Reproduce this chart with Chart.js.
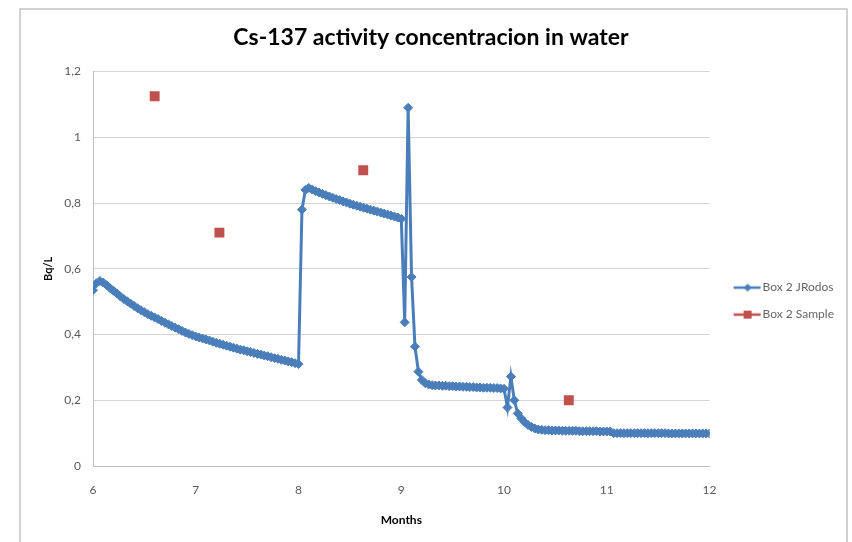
<!DOCTYPE html>
<html>
<head>
<meta charset="utf-8">
<script src="https://cdn.jsdelivr.net/npm/chart.js@4.4.0/dist/chart.umd.min.js"></script>
<style>
html, body { margin: 0; padding: 0; background: #fff; }
#grafico { display: block; }
</style>
</head>
<body>
<canvas id="grafico" width="852" height="542"></canvas>
<script>
// Box 2 JRodos: um valor por dia, do mês 6 ao mês 12
const jrodosInicio = 6;
const jrodosPasso = 1 / 30;
const jrodosValores = [
    0.535, 0.556, 0.563, 0.558, 0.550, 0.541, 0.533, 0.525, 0.516, 0.508,
    0.501, 0.494, 0.487, 0.480, 0.474, 0.468, 0.462, 0.457, 0.452, 0.447,
    0.441, 0.436, 0.431, 0.426, 0.421, 0.416, 0.411, 0.406, 0.402, 0.398,
    0.394, 0.391, 0.388, 0.385, 0.382, 0.378, 0.375, 0.372, 0.369, 0.366,
    0.363, 0.360, 0.357, 0.354, 0.352, 0.349, 0.347, 0.344, 0.341, 0.339,
    0.336, 0.334, 0.331, 0.328, 0.326, 0.323, 0.321, 0.318, 0.316, 0.313,
    0.310, 0.780, 0.840, 0.846, 0.841, 0.836, 0.832, 0.828, 0.824, 0.820,
    0.816, 0.812, 0.809, 0.805, 0.802, 0.798, 0.795, 0.792, 0.789, 0.786,
    0.783, 0.780, 0.777, 0.774, 0.771, 0.768, 0.765, 0.762, 0.759, 0.756,
    0.752, 0.437, 1.090, 0.575, 0.363, 0.287, 0.262, 0.252, 0.248, 0.246,
    0.245, 0.245, 0.244, 0.244, 0.243, 0.243, 0.242, 0.242, 0.241, 0.241,
    0.240, 0.240, 0.239, 0.239, 0.238, 0.238, 0.238, 0.237, 0.237, 0.236,
    0.235, 0.178, 0.272, 0.200, 0.160, 0.145, 0.133, 0.125, 0.119, 0.114,
    0.111, 0.110, 0.109, 0.109, 0.108, 0.108, 0.108, 0.107, 0.107, 0.107,
    0.107, 0.107, 0.106, 0.106, 0.106, 0.106, 0.106, 0.106, 0.105, 0.105,
    0.105, 0.105, 0.100, 0.100, 0.100, 0.100, 0.100, 0.100, 0.100, 0.100,
    0.100, 0.100, 0.100, 0.100, 0.100, 0.100, 0.100, 0.100, 0.099, 0.099,
    0.099, 0.099, 0.099, 0.099, 0.099, 0.099, 0.099, 0.099, 0.099, 0.099,
    0.099
];

// Box 2 Sample (amostras medidas)
const amostraMeses = [6.6, 7.23, 8.63, 10.63];
const amostraValores = [1.125, 0.71, 0.90, 0.20];

// Eixos
const mesMin = 6;
const mesMax = 12;
const bqMin = 0;
const bqMax = 1.2;

const azul = '#4A7EBB';
const vermelho = '#C0504D';
const fonte = 'Lato, "Open Sans", sans-serif';

// Pontos das séries
const jrodosPontos = jrodosValores.map((v, i) => ({ x: jrodosInicio + i * jrodosPasso, y: v }));
const amostraPontos = amostraMeses.map((m, i) => ({ x: m, y: amostraValores[i] }));

// Símbolo da legenda: linha com marcador (como no Excel)
function simboloLegenda(cor, tipo) {
    const c = document.createElement('canvas');
    c.width = 54;
    c.height = 14;
    const g = c.getContext('2d');
    g.strokeStyle = cor;
    g.fillStyle = cor;
    g.lineWidth = 2.5;
    g.beginPath();
    g.moveTo(20, 7);
    g.lineTo(47, 7);
    g.stroke();
    if (tipo === 'losango') {
        g.beginPath();
        g.moveTo(34, 3);
        g.lineTo(38, 7);
        g.lineTo(34, 11);
        g.lineTo(30, 7);
        g.closePath();
        g.fill();
    } else {
        g.fillRect(30, 3, 8, 8);
    }
    return c;
}
const simbolos = [simboloLegenda(azul, 'losango'), simboloLegenda(vermelho, 'quadrado')];

// Moldura cinza em volta do gráfico
const moldura = {
    id: 'moldura',
    beforeDraw(chart) {
        const ctx = chart.ctx;
        ctx.save();
        ctx.fillStyle = '#fff';
        ctx.fillRect(0, 0, chart.width, chart.height);
        ctx.strokeStyle = '#c4c4c4';
        ctx.lineWidth = 1.5;
        ctx.strokeRect(20, 9, 827, 545);
        ctx.restore();
    }
};

const grafico = new Chart(document.getElementById('grafico'), {
    type: 'scatter',
    data: {
        datasets: [{
            label: 'Box 2 JRodos',
            data: jrodosPontos,
            showLine: true,
            borderColor: azul,
            backgroundColor: azul,
            borderWidth: 3,
            pointStyle: 'rectRot',
            pointRadius: 4.5,
            pointBorderWidth: 1,
            tension: 0
        }, {
            label: 'Box 2 Sample',
            data: amostraPontos,
            showLine: false,
            borderColor: vermelho,
            backgroundColor: vermelho,
            pointStyle: 'rect',
            pointRadius: 7,
            pointBorderWidth: 0
        }]
    },
    options: {
        responsive: false,
        animation: false,
        devicePixelRatio: 1,
        layout: { padding: { left: 18, right: 8, top: 0, bottom: 0 } },
        scales: {
            x: {
                type: 'linear',
                min: mesMin,
                max: mesMax,
                ticks: {
                    stepSize: 1,
                    padding: 17,
                    color: '#595959',
                    font: { family: fonte, size: 12 }
                },
                grid: { display: false, drawTicks: false },
                border: { display: true, color: '#bfbfbf', width: 1 },
                title: {
                    display: true,
                    text: 'Months',
                    color: '#000',
                    font: { family: fonte, size: 12, weight: 'bold' },
                    padding: { top: 0, bottom: 15 }
                },
                afterFit(scale) { scale.height = 76; }
            },
            y: {
                min: bqMin,
                max: bqMax,
                ticks: {
                    stepSize: 0.2,
                    padding: 12,
                    color: '#595959',
                    font: { family: fonte, size: 12 },
                    callback: v => String(Number(v.toFixed(1))).replace('.', ',')
                },
                grid: { color: '#d4d4d4', lineWidth: 1, drawTicks: false },
                border: { display: true, color: '#bfbfbf', width: 1 },
                title: {
                    display: true,
                    text: 'Bq/L',
                    color: '#000',
                    font: { family: fonte, size: 11, weight: 'bold' },
                    padding: { top: 24, bottom: 0 }
                },
                afterFit(scale) { scale.width = 75; }
            }
        },
        plugins: {
            title: {
                display: true,
                text: 'Cs-137 activity concentracion in water',
                color: '#000',
                font: { family: fonte, size: 23, weight: 'bold' },
                padding: { top: 24, bottom: 20 }
            },
            legend: {
                position: 'right',
                // título vazio só para baixar os itens da legenda
                title: {
                    display: true,
                    text: ' ',
                    font: { size: 1 },
                    padding: { top: 59, bottom: 0 }
                },
                labels: {
                    usePointStyle: true,
                    pointStyleWidth: 32,
                    padding: 15,
                    color: '#404040',
                    font: { family: fonte, size: 12 },
                    generateLabels: chart => chart.data.datasets.map((ds, i) => ({
                        text: ds.label,
                        pointStyle: simbolos[i],
                        fillStyle: ds.backgroundColor,
                        strokeStyle: ds.borderColor,
                        lineWidth: 0,
                        hidden: false,
                        datasetIndex: i
                    }))
                }
            },
            tooltip: { enabled: false }
        }
    },
    plugins: [moldura]
});
</script>
</body>
</html>
